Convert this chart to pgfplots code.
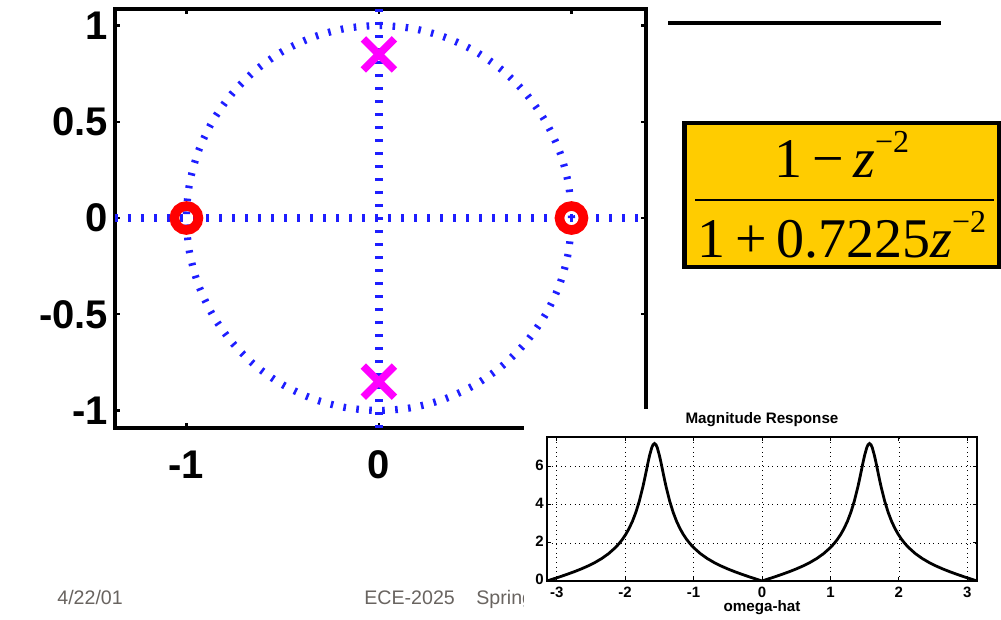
\documentclass[border=0pt]{standalone}
\usepackage{pgfplots}
\pgfplotsset{compat=1.18}
\usepackage{pgfplotstable}
\usepackage{fontspec}
\setmainfont{Liberation Sans}
\newfontfamily\timesfont{Liberation Serif}
\definecolor{formulagold}{RGB}{255,204,0}
\definecolor{footgray}{RGB}{105,100,96}
\definecolor{zpblue}{RGB}{30,30,255}
\definecolor{polemag}{RGB}{255,0,255}

% |H(e^jw)|
\pgfplotstableread{
w H
-3.1416 0
-3.0416 0.1165
-2.9416 0.2352
-2.8416 0.3587
-2.7416 0.4898
-2.6416 0.6319
-2.5416 0.7896
-2.4416 0.9691
-2.3416 1.1794
-2.2416 1.4339
-2.1416 1.7539
-2.0916 1.9488
-2.0416 2.1749
-1.9916 2.4411
-1.9416 2.7590
-1.8916 3.1443
-1.8416 3.6175
-1.7916 4.2025
-1.7416 4.9196
-1.7166 5.3266
-1.6916 5.7562
-1.6666 6.1972
-1.6416 6.5965
-1.6116 6.9864
-1.5916 7.1479
-1.5708 7.2072
-1.55 7.1479
-1.53 6.9864
-1.5 6.5965
-1.475 6.1972
-1.45 5.7562
-1.425 5.3266
-1.4 4.9196
-1.35 4.2025
-1.3 3.6175
-1.25 3.1443
-1.2 2.7590
-1.15 2.4411
-1.1 2.1749
-1.05 1.9488
-1.0 1.7539
-0.9 1.4339
-0.8 1.1794
-0.7 0.9691
-0.6 0.7896
-0.5 0.6319
-0.4 0.4898
-0.3 0.3587
-0.2 0.2352
-0.1 0.1165
0 0
0.1 0.1165
0.2 0.2352
0.3 0.3587
0.4 0.4898
0.5 0.6319
0.6 0.7896
0.7 0.9691
0.8 1.1794
0.9 1.4339
1.0 1.7539
1.05 1.9488
1.1 2.1749
1.15 2.4411
1.2 2.7590
1.25 3.1443
1.3 3.6175
1.35 4.2025
1.4 4.9196
1.425 5.3266
1.45 5.7562
1.475 6.1972
1.5 6.5965
1.53 6.9864
1.55 7.1479
1.5708 7.2072
1.5916 7.1479
1.6116 6.9864
1.6416 6.5965
1.6666 6.1972
1.6916 5.7562
1.7166 5.3266
1.7416 4.9196
1.7916 4.2025
1.8416 3.6175
1.8916 3.1443
1.9416 2.7590
1.9916 2.4411
2.0416 2.1749
2.0916 1.9488
2.1416 1.7539
2.2416 1.4339
2.3416 1.1794
2.4416 0.9691
2.5416 0.7896
2.6416 0.6319
2.7416 0.4898
2.8416 0.3587
2.9416 0.2352
3.0416 0.1165
3.1416 0
}\magtable

\begin{document}
\begin{tikzpicture}
\useasboundingbox (0,0) rectangle (500.5pt,310pt);
\fill[white] (0,0) rectangle (500.5pt,310pt);

% pole-zero plot
\begin{axis}[at={(57.5pt,96pt)}, anchor=south west, scale only axis,
  width=265.5pt, height=209.5pt,
  xmin=-1.371, xmax=1.387, ymin=-1.091, ymax=1.086,
  xtick={-1,0,1}, xticklabels={-1,0,1},
  ytick={-1,-0.5,0,0.5,1}, yticklabels={-1,-0.5,0,0.5,1},
  tick align=inside, major tick length=2.5pt,
  tick style={black, line width=1.2pt},
  axis line style={line width=2pt},
  tick label style={font=\fontsize{20}{20}\selectfont\bfseries},
  xticklabel style={yshift=-8pt},
  zpdot/.style={zpblue, line width=3.6pt, dash pattern=on 1.3pt off 5.2pt}]
\addplot[zpdot] coordinates {(-1.371,0) (1.387,0)};
\addplot[zpdot] coordinates {(0,-1.091) (0,1.086)};
\addplot[zpdot, smooth] coordinates {
 (1,0) (0.9848,0.1736) (0.9397,0.3420) (0.8660,0.5) (0.7660,0.6428) (0.6428,0.7660)
 (0.5,0.8660) (0.3420,0.9397) (0.1736,0.9848) (0,1) (-0.1736,0.9848) (-0.3420,0.9397)
 (-0.5,0.8660) (-0.6428,0.7660) (-0.7660,0.6428) (-0.8660,0.5) (-0.9397,0.3420) (-0.9848,0.1736)
 (-1,0) (-0.9848,-0.1736) (-0.9397,-0.3420) (-0.8660,-0.5) (-0.7660,-0.6428) (-0.6428,-0.7660)
 (-0.5,-0.8660) (-0.3420,-0.9397) (-0.1736,-0.9848) (0,-1) (0.1736,-0.9848) (0.3420,-0.9397)
 (0.5,-0.8660) (0.6428,-0.7660) (0.7660,-0.6428) (0.8660,-0.5) (0.9397,-0.3420) (0.9848,-0.1736) (1,0)};
\addplot[only marks, mark=o, red, mark size=6pt, mark options={line width=4.8pt}] coordinates {(-1,0) (1,0)};
\addplot[only marks, mark=x, polemag, mark size=11pt, mark options={line width=3.8pt}] coordinates {(0,0.85) (0,-0.85)};
\end{axis}

% footer
\node[anchor=base west, font=\fontsize{9.8}{10}\selectfont, text=footgray, inner sep=0] at (28.5pt,7.5pt) {4/22/01};
\node[anchor=base west, font=\fontsize{9.8}{10}\selectfont, text=footgray, inner sep=0] at (182pt,7.5pt) {ECE-2025};
\node[anchor=base west, font=\fontsize{9.8}{10}\selectfont, text=footgray, inner sep=0] at (238pt,7.5pt) {Spring};

% inset magnitude response
\fill[white] (262pt,0) rectangle (500.5pt,105.5pt);
\begin{axis}[at={(273.5pt,19.5pt)}, anchor=south west, scale only axis,
  width=215pt, height=72pt,
  xmin=-3.1416, xmax=3.1416, ymin=0, ymax=7.55,
  xtick={-3,-2,-1,0,1,2,3}, xticklabels={-3,-2,-1,0,1,2,3},
  ytick={0,2,4,6}, yticklabels={0,2,4,6},
  grid=major, grid style={black, line width=0.3pt, dotted},
  tick align=inside, major tick length=2pt,
  tick style={black, line width=0.5pt},
  axis line style={line width=1pt},
  tick label style={font=\fontsize{7.5}{7.5}\selectfont\bfseries},
  xticklabel style={inner sep=1.5pt, yshift=-1.2pt},
  yticklabel style={inner sep=1.5pt, yshift=0.6pt}]
\addplot[black, line width=1.4pt] table[x=w, y=H] {\magtable};
\end{axis}
\node[anchor=base, font=\fontsize{7.6}{8}\selectfont\bfseries] at (381pt,98pt) {Magnitude Response};
\node[anchor=base, font=\fontsize{7.6}{8}\selectfont\bfseries] at (381pt,4pt) {omega-hat};

% transfer function box
\draw[line width=2.3pt, fill=formulagold] (342.2pt,176.5pt) rectangle (499.4pt,248.5pt);
\draw[line width=1pt] (347.5pt,210pt) -- (497pt,210pt);
\node[anchor=base, font=\timesfont\fontsize{28}{28}\selectfont, inner sep=0] at (421pt,221pt)
  {1\,−\,\textit{z}\raisebox{0.46em}{\fontsize{16}{16}\selectfont −2}};
\node[anchor=base, font=\timesfont\fontsize{28}{28}\selectfont, inner sep=0] at (421pt,181pt)
  {1\,+\,0.7225\textit{z}\raisebox{0.46em}{\fontsize{16}{16}\selectfont −2}};

% title underline
\draw[line width=2.2pt] (334pt,298.5pt) -- (470.5pt,298.5pt);
\end{tikzpicture}
\end{document}
